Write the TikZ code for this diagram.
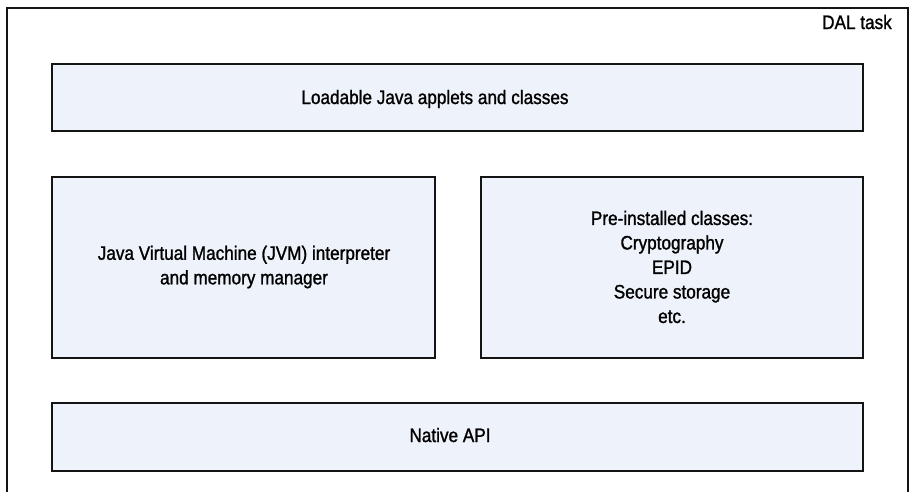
\documentclass[tikz,border=0pt]{standalone}
\usepackage{fontspec}
\setmainfont[FakeStretch=0.88,FakeBold=1.2]{Liberation Sans}
\definecolor{boxfill}{RGB}{238,242,250}
\definecolor{edge}{RGB}{20,20,20}
\begin{document}
\begin{tikzpicture}[x=1pt,y=-1pt,
  layer/.style={draw=edge,line width=1.6pt,fill=boxfill},
  lbl/.style={font=\fontsize{19.5}{24.5}\selectfont,text=black,inner sep=0pt,align=center}]
\useasboundingbox (0,0) rectangle (909,491);
% outer task frame
\coordinate (bl) at (7,492);
\coordinate (tl) at (7,8);
\coordinate (tr) at (908,8);
\coordinate (br) at (908,492);
\draw[line width=1.8pt,draw=edge] (bl) -- (tl) -- (tr) -- (br);
\node[lbl,anchor=base east] (dal) at (892,29) {DAL task};
% boxes
\draw[layer] (52,64) rectangle (863,131);
\node[lbl,anchor=base] (load) at (435,104) {Loadable Java applets and classes};
\draw[layer] (52,177) rectangle (435,358);
\node[lbl] (jvm) at (244,267) {Java Virtual Machine (JVM) interpreter\\and memory manager};
\draw[layer] (481,177) rectangle (863,358);
\node[lbl] (pre) at (672,267) {Pre-installed classes:\\Cryptography\\EPID\\Secure storage\\etc.};
\draw[layer] (52,403) rectangle (863,471);
\node[lbl,anchor=base] (nat) at (450,442) {Native API};
\end{tikzpicture}
\end{document}
